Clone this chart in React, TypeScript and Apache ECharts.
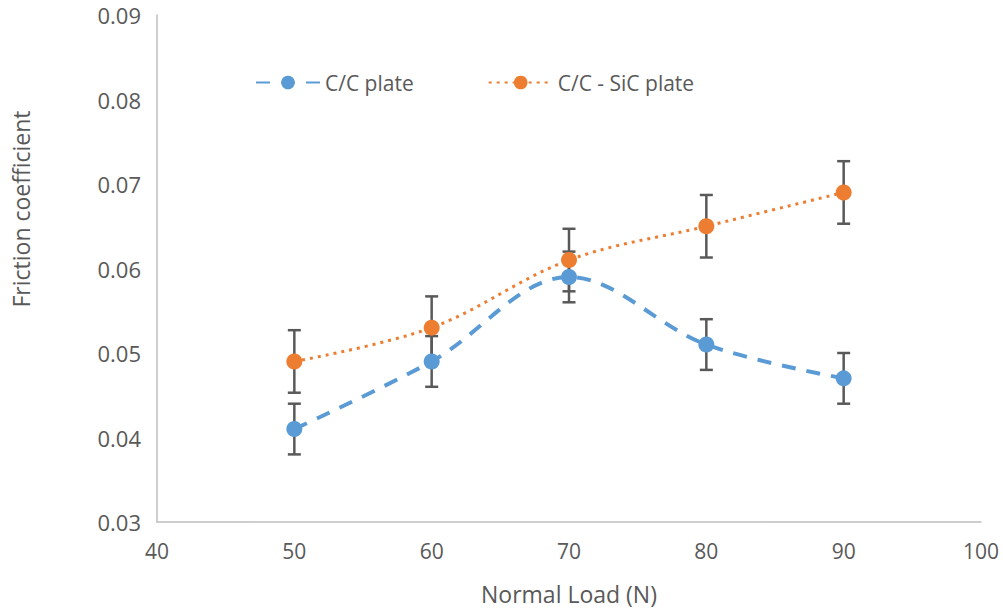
import React, { useEffect, useRef } from "react";
import * as echarts from "echarts";

const xValues = [50, 60, 70, 80, 90];
const ccPlate = [0.041, 0.049, 0.059, 0.051, 0.047];
const ccErr = [0.003, 0.003, 0.003, 0.003, 0.003];
const sicPlate = [0.049, 0.053, 0.061, 0.065, 0.069];
const sicErr = [0.0037, 0.0037, 0.0037, 0.0037, 0.0037];

const seriesNames = ["C/C plate", "C/C - SiC plate"];
const xTitle = "Normal Load (N)";
const yTitle = "Friction coefficient";

const BLUE = "#5B9BD5";
const ORANGE = "#ED7D31";
const TXT = "#595959";
const FONT = "'Open Sans', sans-serif";

function errRender(params: any, api: any) {
  const x = api.value(0);
  const lo = api.value(1);
  const hi = api.value(2);
  const p1 = api.coord([x, hi]);
  const p2 = api.coord([x, lo]);
  const hw = 6.5;
  const style = { stroke: TXT, lineWidth: 2.5 };
  return {
    type: "group",
    children: [
      { type: "line", shape: { x1: p1[0], y1: p1[1], x2: p2[0], y2: p2[1] }, style },
      { type: "line", shape: { x1: p1[0] - hw, y1: p1[1], x2: p1[0] + hw, y2: p1[1] }, style },
      { type: "line", shape: { x1: p2[0] - hw, y1: p2[1], x2: p2[0] + hw, y2: p2[1] }, style },
    ],
  };
}

export default function App() {
  const ref = useRef<HTMLDivElement>(null);
  useEffect(() => {
    const chart = echarts.init(ref.current!, null, { renderer: "svg" });
    const ccData = xValues.map((x, i) => [x, ccPlate[i]]);
    const sicData = xValues.map((x, i) => [x, sicPlate[i]]);
    const ccErrData = xValues.map((x, i) => [x, ccPlate[i] - ccErr[i], ccPlate[i] + ccErr[i]]);
    const sicErrData = xValues.map((x, i) => [x, sicPlate[i] - sicErr[i], sicPlate[i] + sicErr[i]]);
    chart.setOption({
      animation: false,
      backgroundColor: "#ffffff",
      textStyle: { fontFamily: FONT },
      grid: { left: 157, right: 22, top: 15, bottom: 89, containLabel: false },
      legend: {
        data: seriesNames,
        left: 250,
        top: 67,
        itemWidth: 64,
        itemHeight: 17,
        itemGap: 74,
        textStyle: { fontSize: 21, color: TXT, fontFamily: FONT },
      },
      xAxis: {
        type: "value",
        min: 40,
        max: 100,
        interval: 10,
        name: xTitle,
        nameLocation: "middle",
        nameGap: 60,
        nameTextStyle: { fontSize: 23, color: TXT, fontFamily: FONT },
        axisLine: { show: true, lineStyle: { color: "#BFBFBF", width: 1.5 } },
        axisTick: { show: false },
        splitLine: { show: false },
        axisLabel: { fontSize: 21, color: TXT, margin: 18, fontFamily: FONT },
      },
      yAxis: {
        type: "value",
        min: 0.03,
        max: 0.09,
        interval: 0.01,
        axisLine: { show: true, lineStyle: { color: "#BFBFBF", width: 1.5 } },
        axisTick: { show: false },
        splitLine: { show: false },
        axisLabel: {
          fontSize: 22,
          color: TXT,
          margin: 16,
          fontFamily: FONT,
          formatter: (v: number) => v.toFixed(2),
        },
      },
      graphic: [
        {
          type: "text",
          x: 21,
          y: 209,
          rotation: Math.PI / 2,
          style: {
            text: yTitle,
            fontSize: 23,
            fill: TXT,
            fontFamily: FONT,
            textAlign: "center",
            textVerticalAlign: "middle",
          },
        },
      ],
      series: [
        {
          type: "custom",
          name: "ccErr",
          data: ccErrData,
          renderItem: errRender,
          encode: { x: 0, y: [1, 2] },
          z: 1,
          silent: true,
        },
        {
          type: "custom",
          name: "sicErr",
          data: sicErrData,
          renderItem: errRender,
          encode: { x: 0, y: [1, 2] },
          z: 1,
          silent: true,
        },
        {
          type: "line",
          name: seriesNames[0],
          data: ccData,
          smooth: 0.35,
          symbol: "circle",
          symbolSize: 16,
          z: 3,
          itemStyle: { color: BLUE },
          lineStyle: { color: BLUE, width: 4, type: [14, 11] },
        },
        {
          type: "line",
          name: seriesNames[1],
          data: sicData,
          smooth: 0.35,
          symbol: "circle",
          symbolSize: 16,
          z: 3,
          itemStyle: { color: ORANGE },
          lineStyle: { color: ORANGE, width: 3, type: [3, 5] },
        },
      ],
    });
    return () => chart.dispose();
  }, []);
  return <div ref={ref} style={{ width: 1003, height: 611, position: "absolute", left: 0, top: 0 }} />;
}
